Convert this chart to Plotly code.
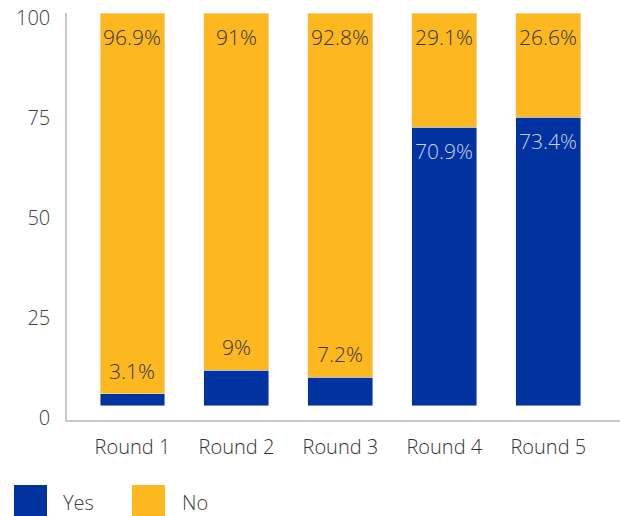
import plotly.graph_objects as go

categories = ["Round 1", "Round 2", "Round 3", "Round 4", "Round 5"]
yes_values = [3.1, 9, 7.2, 70.9, 73.4]
no_values = [96.9, 91, 92.8, 29.1, 26.6]
y_ticks = [0, 25, 50, 75, 100]
series_names = ["Yes", "No"]

BLUE = "#0033a0"
YELLOW = "#fdb71f"
FONT = "Open Sans"
DARK = "#333333"
LIGHT = "#c9d2ee"

W, H = 620, 516
ML, MR, MT, MB = 67, 0, 13, 96
PW, PH = W - ML - MR, H - MT - MB

fig = go.Figure()
fig.add_trace(go.Bar(x=categories, y=yes_values, name="Yes", marker_color=BLUE,
                     yaxis="y2", showlegend=False, hoverinfo="skip"))
fig.add_trace(go.Bar(x=categories, y=no_values, name="No", marker_color=YELLOW,
                     yaxis="y2", showlegend=False, hoverinfo="skip"))
# invisible helper so the tick axis is drawn
fig.add_trace(go.Scatter(x=[categories[0]] * len(y_ticks), y=y_ticks, mode="markers",
                         marker=dict(opacity=0), yaxis="y", showlegend=False,
                         hoverinfo="skip"))

annotations = []
for c, y, n in zip(categories, yes_values, no_values):
    inside = y >= 50
    annotations.append(dict(x=c, y=y, xref="x", yref="y2", text=f"{y:g}%",
                            showarrow=False, xanchor="center", yanchor="middle",
                            yshift=-24 if inside else 23,
                            font=dict(family=FONT, size=21, color=LIGHT if inside else DARK,
                                      weight=300)))
    annotations.append(dict(x=c, y=y + n, xref="x", yref="y2", text=f"{n:g}%",
                            showarrow=False, xanchor="center", yanchor="middle",
                            yshift=-24,
                            font=dict(family=FONT, size=21, color=DARK, weight=300)))

# manual legend
def px_to_paper_x(px):
    return (px - ML) / PW

def px_to_paper_y(py):
    return 1 - (py - MT) / PH

shapes = []
legend_x = [(14, 47, 61), (132, 165, 180)]
for (x0, x1, tx), name, col in zip(legend_x, series_names, [BLUE, YELLOW]):
    shapes.append(dict(type="rect", xref="paper", yref="paper",
                       x0=px_to_paper_x(x0), x1=px_to_paper_x(x1),
                       y0=px_to_paper_y(485), y1=px_to_paper_y(520),
                       fillcolor=col, line=dict(width=0), layer="above"))
    annotations.append(dict(x=px_to_paper_x(tx), y=px_to_paper_y(502), xref="paper", yref="paper",
                            text=name, showarrow=False, xanchor="left", yanchor="middle",
                            font=dict(family=FONT, size=20, color="#404040", weight=300)))

fig.update_layout(
    width=W, height=H,
    margin=dict(l=ML, r=MR, t=MT, b=MB, pad=0),
    barmode="stack", bargap=0.375,
    plot_bgcolor="white", paper_bgcolor="white",
    font=dict(family=FONT, color="#404040"),
    showlegend=False,
    xaxis=dict(range=[-0.63, 4.69], showline=True, linecolor="#c8c8c8", linewidth=1.5,
               showgrid=False, zeroline=False, ticks="", ticklabelstandoff=8,
               tickfont=dict(family=FONT, size=20, color="#333333", weight=300)),
    yaxis=dict(range=[-0.5, 101.3], tickvals=y_ticks, showline=True, linecolor="#c8c8c8",
               linewidth=1.5, showgrid=False, zeroline=False, ticks="", ticklabelstandoff=11,
               tickfont=dict(family=FONT, size=20, color="#404040", weight=300)),
    yaxis2=dict(range=[-3.64, 100], overlaying="y", visible=False),
    annotations=annotations,
    shapes=shapes,
)

fig.write_html("out.html", config={"displayModeBar": False},
               post_script="document.body.style.margin='0';")
